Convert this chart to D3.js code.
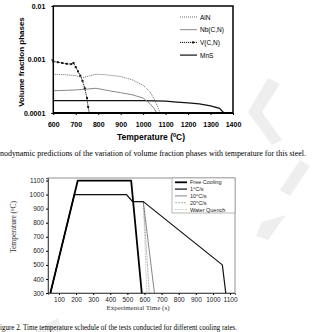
<!DOCTYPE html>
<html>
<head>
<meta charset="utf-8">
<script src="https://cdn.jsdelivr.net/npm/d3@7"></script>
<style>
body { margin: 0; background: #fff; }
svg { display: block; }
</style>
</head>
<body>
<div id="chart"></div>
<script>
// top chart: volume fraction of phases vs temperature
var tempTicks = [600, 700, 800, 900, 1000, 1100, 1200, 1300, 1400];
var fracTicks = [0.0001, 0.001, 0.01];
var fracLabels = ["0.0001", "0.001", "0.01"];

var alnT = [600, 650, 700, 730, 750, 780, 800, 850, 900, 950, 1000, 1030, 1050, 1065, 1075];
var alnV = [0.00053, 0.00052, 0.0005, 0.00046, 0.00048, 0.00052, 0.00053, 0.00051, 0.00048, 0.00042, 0.00033, 0.00025, 0.00018, 0.00013, 0.0001];
var nbT = [600, 700, 750, 790, 850, 900, 950, 1000, 1030, 1050, 1060];
var nbV = [0.00026, 0.00027, 0.00028, 0.00029, 0.00026, 0.00024, 0.00022, 0.00019, 0.00015, 0.00012, 0.0001];
var vT = [600, 620, 640, 660, 680, 690, 700, 710, 720, 730, 740, 750, 755, 760];
var vV = [0.00092, 0.00089, 0.00086, 0.00083, 0.00082, 0.00086, 0.00072, 0.0006, 0.0005, 0.0004, 0.00029, 0.00019, 0.00013, 0.0001];
var mnsT = [600, 800, 1000, 1100, 1150, 1200, 1250, 1300, 1340, 1360];
var mnsV = [0.00017, 0.00017, 0.00017, 0.000166, 0.00016, 0.000155, 0.000148, 0.000136, 0.000122, 0.0001];

// bottom chart: time temperature schedules
var timeTicks = [100, 200, 300, 400, 500, 600, 700, 800, 900, 1000, 1100];
var tempTicks2 = [300, 400, 500, 600, 700, 800, 900, 1000, 1100];
var freeT = [50, 210, 522, 584];
var freeC = [300, 1100, 1100, 300];
var oneT = [50, 190, 495, 530, 593, 1055, 1075];
var oneC = [300, 1000, 1000, 950, 950, 500, 300];
var tenT = [50, 190, 495, 530, 593, 658];
var tenC = [300, 1000, 1000, 950, 950, 300];
var twentyT = [593, 628];
var twentyC = [950, 300];
var waterT = [593, 614];
var waterC = [950, 300];

var width = 328, height = 332;
var svg = d3.select("#chart").append("svg")
    .attr("width", width)
    .attr("height", height);
svg.append("rect").attr("width", width).attr("height", height).attr("fill", "#fff");

// faint watermark shapes
var wm = svg.append("g").attr("fill", "#eeeeee");
wm.append("path").attr("d", "M268,78 L280,84 L262,112 L282,140 L272,145 L248,112 Z");
wm.append("path").attr("d", "M300,160 L310,166 L290,196 L280,190 Z");
wm.append("path").attr("d", "M262,222 L286,215 L268,240 L256,236 Z");
wm.append("path").attr("d", "M36,330 L58,318 L62,332 L36,332 Z");

// ---------- top chart ----------
var x1 = d3.scaleLinear().domain([600, 1400]).range([53.3, 233]);
var y1 = d3.scaleLog().domain([0.0001, 0.01]).range([113, 6]);

var g1 = svg.append("g");
var line1 = d3.line()
    .x(function(d) { return x1(d[0]); })
    .y(function(d) { return y1(d[1]); });

function pairs(a, b) { return a.map(function(v, i) { return [v, b[i]]; }); }

g1.append("path").datum(pairs(mnsT, mnsV)).attr("d", line1)
    .attr("fill", "none").attr("stroke", "#111").attr("stroke-width", 1.2);
g1.append("path").datum(pairs(nbT, nbV)).attr("d", line1)
    .attr("fill", "none").attr("stroke", "#888").attr("stroke-width", 1);
g1.append("path").datum(pairs(alnT, alnV)).attr("d", line1)
    .attr("fill", "none").attr("stroke", "#444").attr("stroke-width", 0.8)
    .attr("stroke-dasharray", "1,1");
g1.append("path").datum(pairs(vT, vV)).attr("d", line1)
    .attr("fill", "none").attr("stroke", "#111").attr("stroke-width", 1)
    .attr("stroke-dasharray", "1.2,0.8");
g1.selectAll(".vmark").data(pairs(vT, vV)).enter().append("rect")
    .attr("class", "vmark")
    .attr("x", function(d) { return x1(d[0]) - 1; })
    .attr("y", function(d) { return y1(d[1]) - 1; })
    .attr("width", 2).attr("height", 2)
    .attr("fill", "#111");

// frame
g1.append("rect").attr("x", 53.3).attr("y", 6).attr("width", 233 - 53.3).attr("height", 107)
    .attr("fill", "none").attr("stroke", "#000").attr("stroke-width", 1.5);
g1.append("line").attr("x1", 53.3).attr("x2", 233).attr("y1", 113).attr("y2", 113)
    .attr("stroke", "#000").attr("stroke-width", 2);

var xAxis1 = g1.append("g").attr("transform", "translate(0,113)")
    .call(d3.axisBottom(x1).tickValues(tempTicks).tickSize(2).tickFormat(d3.format("d")));
xAxis1.select(".domain").remove();
xAxis1.selectAll("text").attr("dy", "0").attr("y", 14)
    .style("font-family", "Liberation Sans, Arial, sans-serif")
    .style("font-size", "7px").style("font-weight", "bold");

var yAxis1 = g1.append("g").attr("transform", "translate(53.3,0)")
    .call(d3.axisLeft(y1).tickValues(fracTicks).tickSize(2)
        .tickFormat(function(d, i) { return fracLabels[i]; }));
yAxis1.select(".domain").remove();
yAxis1.selectAll("text").attr("x", -8)
    .style("font-family", "Liberation Sans, Arial, sans-serif")
    .style("font-size", "7px").style("font-weight", "bold");

g1.append("text")
    .attr("transform", "translate(24,62) rotate(-90)")
    .attr("text-anchor", "middle")
    .style("font-family", "Liberation Sans, Arial, sans-serif")
    .style("font-size", "8px").style("font-weight", "bold")
    .text("Volume fraction phases");

var xt = g1.append("text")
    .attr("x", 151).attr("y", 140)
    .attr("text-anchor", "middle")
    .style("font-family", "Liberation Sans, Arial, sans-serif")
    .style("font-size", "8.5px").style("font-weight", "bold");
xt.append("tspan").text("Temperature (");
xt.append("tspan").attr("baseline-shift", "super").style("font-size", "5.5px").text("0");
xt.append("tspan").attr("baseline-shift", "0").text("C)");

// legend top
var leg1 = [
    { name: "AlN", stroke: "#444", dash: "1,1", w: 0.8, mark: false },
    { name: "Nb(C,N)", stroke: "#888", dash: null, w: 1, mark: false },
    { name: "V(C,N)", stroke: "#111", dash: "1.2,0.8", w: 1, mark: true },
    { name: "MnS", stroke: "#111", dash: null, w: 1.2, mark: false }
];
var lg1 = g1.selectAll(".leg1").data(leg1).enter().append("g")
    .attr("class", "leg1")
    .attr("transform", function(d, i) { return "translate(180," + (17 + i * 12.7) + ")"; });
lg1.append("line").attr("x1", 0).attr("x2", 17).attr("y1", 0).attr("y2", 0)
    .attr("stroke", function(d) { return d.stroke; })
    .attr("stroke-width", function(d) { return d.w; })
    .attr("stroke-dasharray", function(d) { return d.dash; });
lg1.filter(function(d) { return d.mark; }).append("rect")
    .attr("x", 12).attr("y", -1).attr("width", 2).attr("height", 2).attr("fill", "#111");
lg1.append("text").attr("x", 20).attr("y", 2.5)
    .style("font-family", "Liberation Sans, Arial, sans-serif")
    .style("font-size", "6.5px")
    .text(function(d) { return d.name; });

// caption 1
svg.append("text").attr("x", 0).attr("y", 156)
    .attr("textLength", 306).attr("lengthAdjust", "spacingAndGlyphs")
    .style("font-family", "Liberation Serif, Times New Roman, serif")
    .style("font-size", "8px")
    .text("nodynamic predictions of the variation of volume fraction phases with temperature for this steel.");

// ---------- bottom chart ----------
var x2 = d3.scaleLinear().domain([36, 1129]).range([48, 235]);
var y2 = d3.scaleLinear().domain([300, 1118]).range([293, 178]);
var g2 = svg.append("g");
var line2 = d3.line()
    .x(function(d) { return x2(d[0]); })
    .y(function(d) { return y2(d[1]); });

g2.append("rect").attr("x", 48).attr("y", 178).attr("width", 187).attr("height", 115)
    .attr("fill", "none").attr("stroke", "#777").attr("stroke-width", 0.8);

var series2 = [
    { name: "Water Quench", t: waterT, c: waterC, stroke: "#aaa", w: 0.8, dash: "0.8,0.8" },
    { name: "20\u00b0C/s", t: twentyT, c: twentyC, stroke: "#999", w: 0.8, dash: "2,1" },
    { name: "10\u00b0C/s", t: tenT, c: tenC, stroke: "#777", w: 0.9, dash: null },
    { name: "1\u00b0C/s", t: oneT, c: oneC, stroke: "#111", w: 1.2, dash: null },
    { name: "Free Cooling", t: freeT, c: freeC, stroke: "#000", w: 1.8, dash: null }
];
series2.forEach(function(s) {
    g2.append("path").datum(pairs(s.t, s.c)).attr("d", line2)
        .attr("fill", "none").attr("stroke", s.stroke)
        .attr("stroke-width", s.w).attr("stroke-dasharray", s.dash)
        .attr("stroke-linejoin", "round");
});

var xAxis2 = g2.append("g").attr("transform", "translate(0,293)")
    .call(d3.axisBottom(x2).tickValues(timeTicks).tickSize(2).tickFormat(d3.format("d")));
xAxis2.select(".domain").attr("stroke", "#333").attr("stroke-width", 0.8);
xAxis2.selectAll("text").attr("dy", "0").attr("y", 9)
    .style("font-family", "Liberation Sans, Arial, sans-serif")
    .style("font-size", "6.5px").attr("fill", "#222");

var yAxis2 = g2.append("g").attr("transform", "translate(48,0)")
    .call(d3.axisLeft(y2).tickValues(tempTicks2).tickSize(2).tickFormat(d3.format("d")));
yAxis2.select(".domain").attr("stroke", "#333").attr("stroke-width", 0.8);
yAxis2.selectAll("text").attr("x", -4)
    .style("font-family", "Liberation Sans, Arial, sans-serif")
    .style("font-size", "6.5px").attr("fill", "#222");

var yt2 = g2.append("text")
    .attr("transform", "translate(16,227) rotate(-90)")
    .attr("text-anchor", "middle")
    .style("font-family", "Liberation Serif, Times New Roman, serif")
    .style("font-size", "7.5px").attr("fill", "#333");
yt2.append("tspan").text("Temperature (");
yt2.append("tspan").attr("baseline-shift", "super").style("font-size", "5px").text("0");
yt2.append("tspan").attr("baseline-shift", "0").text("C)");

svg.append("text")
    .attr("x", 138).attr("y", 310)
    .attr("text-anchor", "middle")
    .style("font-family", "Liberation Serif, Times New Roman, serif")
    .style("font-size", "7px").attr("fill", "#333")
    .text("Experimental Time (s)");

// legend bottom
var leg2 = series2.slice().reverse();
g2.append("rect").attr("x", 172).attr("y", 178).attr("width", 63).attr("height", 35)
    .attr("fill", "#fff").attr("stroke", "#888").attr("stroke-width", 0.6);
var lg2 = g2.selectAll(".leg2").data(leg2).enter().append("g")
    .attr("class", "leg2")
    .attr("transform", function(d, i) { return "translate(175," + (182.3 + i * 6.8) + ")"; });
lg2.append("line").attr("x1", 0).attr("x2", 12).attr("y1", 0).attr("y2", 0)
    .attr("stroke", function(d) { return d.stroke; })
    .attr("stroke-width", function(d) { return d.w; })
    .attr("stroke-dasharray", function(d) { return d.dash; });
lg2.append("text").attr("x", 15).attr("y", 2)
    .style("font-family", "Liberation Sans, Arial, sans-serif")
    .style("font-size", "5.5px").attr("fill", "#222")
    .text(function(d) { return d.name; });

// caption 2 (sits at the bottom edge)
svg.append("text").attr("x", 0).attr("y", 330)
    .attr("textLength", 237).attr("lengthAdjust", "spacingAndGlyphs")
    .style("font-family", "Liberation Serif, Times New Roman, serif")
    .style("font-size", "7.5px")
    .text("igure 2. Time temperature schedule of the tests conducted for different cooling rates.");
</script>
</body>
</html>
